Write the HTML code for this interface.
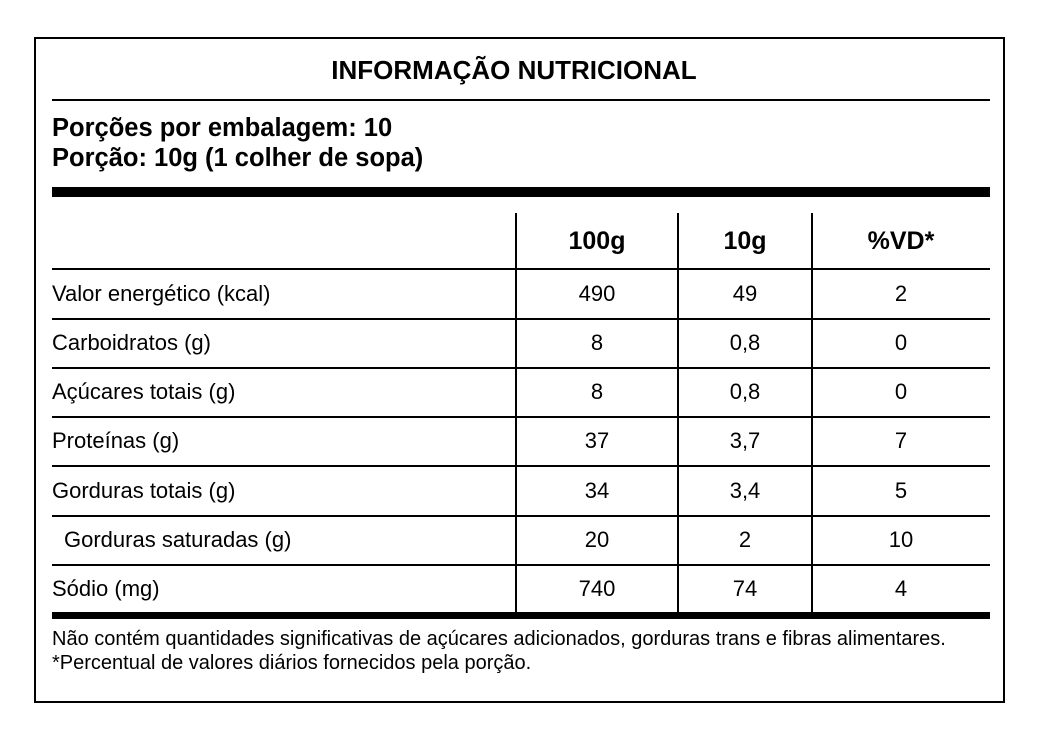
<!DOCTYPE html>
<html><head><style>
body{margin:0;background:#fff;width:1038px;height:732px;position:relative;font-family:"Liberation Sans",Arial,sans-serif;color:#000;overflow:hidden}
.a{position:absolute}
.h{position:absolute;background:#000;left:52px;width:938px}
.v{position:absolute;background:#000;width:2px;top:213px;height:402px}
.t{position:absolute;font-size:22px;white-space:nowrap;line-height:26px}
.c{text-align:center;width:160px;margin-left:-80px}
</style></head><body>
<div class="a" style="left:34px;top:37px;width:967px;height:662px;border:2px solid #000"></div>
<div class="t" style="left:0;width:1028px;text-align:center;top:55px;font-weight:bold;font-size:26px;line-height:30px">INFORMAÇÃO NUTRICIONAL</div>
<div class="h" style="top:99px;height:2px"></div>
<div class="t" style="left:52px;top:113px;font-weight:bold;font-size:25.5px;line-height:30px">Porções por embalagem: 10<br>Porção: 10g (1 colher de sopa)</div>
<div class="h" style="top:187px;height:10px"></div>
<div class="v" style="left:515px"></div>
<div class="v" style="left:677px"></div>
<div class="v" style="left:811px"></div>
<div class="t c" style="left:597px;top:227px;font-weight:bold;font-size:25px;line-height:28px">100g</div>
<div class="t c" style="left:745px;top:227px;font-weight:bold;font-size:25px;line-height:28px">10g</div>
<div class="t c" style="left:901px;top:227px;font-weight:bold;font-size:25px;line-height:28px">%VD*</div>
<div class="h" style="top:268px;height:2px"></div>
<div class="h" style="top:318px;height:2px"></div>
<div class="h" style="top:367px;height:2px"></div>
<div class="h" style="top:416px;height:2px"></div>
<div class="h" style="top:465px;height:2px"></div>
<div class="h" style="top:515px;height:2px"></div>
<div class="h" style="top:564px;height:2px"></div>
<div class="h" style="top:612px;height:7px"></div>

<div class="t" style="left:52px;top:281px">Valor energético (kcal)</div>
<div class="t c" style="left:597px;top:281px">490</div><div class="t c" style="left:745px;top:281px">49</div><div class="t c" style="left:901px;top:281px">2</div>
<div class="t" style="left:52px;top:330px">Carboidratos (g)</div>
<div class="t c" style="left:597px;top:330px">8</div><div class="t c" style="left:745px;top:330px">0,8</div><div class="t c" style="left:901px;top:330px">0</div>
<div class="t" style="left:52px;top:379px">Açúcares totais (g)</div>
<div class="t c" style="left:597px;top:379px">8</div><div class="t c" style="left:745px;top:379px">0,8</div><div class="t c" style="left:901px;top:379px">0</div>
<div class="t" style="left:52px;top:428px">Proteínas (g)</div>
<div class="t c" style="left:597px;top:428px">37</div><div class="t c" style="left:745px;top:428px">3,7</div><div class="t c" style="left:901px;top:428px">7</div>
<div class="t" style="left:52px;top:478px">Gorduras totais (g)</div>
<div class="t c" style="left:597px;top:478px">34</div><div class="t c" style="left:745px;top:478px">3,4</div><div class="t c" style="left:901px;top:478px">5</div>
<div class="t" style="left:64px;top:527px">Gorduras saturadas (g)</div>
<div class="t c" style="left:597px;top:527px">20</div><div class="t c" style="left:745px;top:527px">2</div><div class="t c" style="left:901px;top:527px">10</div>
<div class="t" style="left:52px;top:576px">Sódio (mg)</div>
<div class="t c" style="left:597px;top:576px">740</div><div class="t c" style="left:745px;top:576px">74</div><div class="t c" style="left:901px;top:576px">4</div>

<div class="t" style="left:52px;top:627px;font-size:20px;line-height:24px">Não contém quantidades significativas de açúcares adicionados, gorduras trans e fibras alimentares.<br>*Percentual de valores diários fornecidos pela porção.</div>
</body></html>
